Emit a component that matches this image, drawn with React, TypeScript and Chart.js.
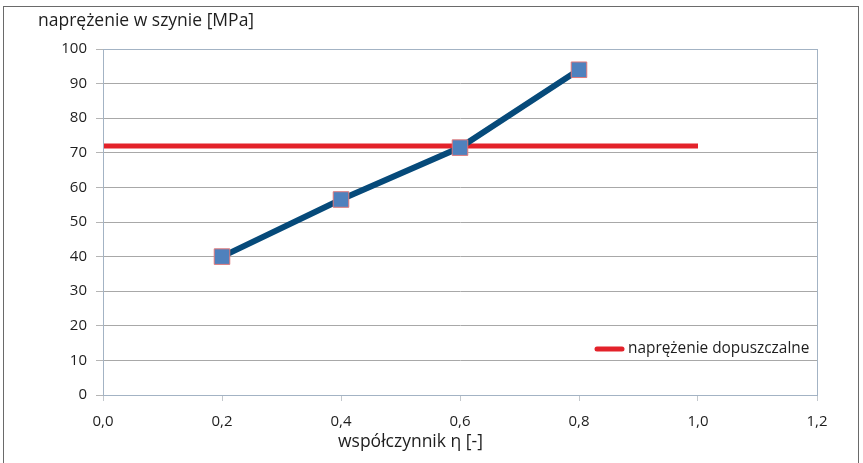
import React, { useEffect, useRef } from "react";
import { Chart, registerables } from "chart.js";

Chart.register(...registerables);

// ---- data ----
const etaValues = [0.2, 0.4, 0.6, 0.8];
const stressValues = [40, 56.5, 71.5, 94];
const allowedEta = [0.0, 1.0];
const allowedStress = [72, 72];
const seriesNames = ["naprężenie w szynie", "naprężenie dopuszczalne"];
const yAxisTitle = "naprężenie w szynie [MPa]";
const xAxisTitle = "współczynnik η [-]";
const xMin = 0, xMax = 1.2, xStep = 0.2;
const yMin = 0, yMax = 100, yStep = 10;

const FONT = "'Open Sans', 'Noto Sans', sans-serif";

const decorPlugin = {
  id: "decor",
  afterDraw(chart: any) {
    const { ctx, chartArea } = chart;
    ctx.save();
    // plot-area frame
    ctx.strokeStyle = "#a3b3c4";
    ctx.lineWidth = 1;
    ctx.strokeRect(chartArea.left + 0.5, chartArea.top + 0.5, chartArea.right - chartArea.left, chartArea.bottom - chartArea.top);
    // y title (horizontal, top-left)
    ctx.fillStyle = "#1e1e1e";
    ctx.font = `17.5px ${FONT}`;
    ctx.textBaseline = "middle";
    ctx.textAlign = "left";
    ctx.fillText(yAxisTitle, 38, 21);
    // x title
    ctx.fillText(xAxisTitle, 338, 442);
    // legend inside plot area
    const ly = chart.scales.y.getPixelForValue(13.3);
    const lx = 597;
    ctx.strokeStyle = "#e3222a";
    ctx.lineWidth = 5;
    ctx.lineCap = "round";
    ctx.beginPath();
    ctx.moveTo(lx, ly);
    ctx.lineTo(lx + 25, ly);
    ctx.stroke();
    ctx.font = `15.4px ${FONT}`;
    ctx.fillStyle = "#1e1e1e";
    ctx.fillText(seriesNames[1], lx + 31, ly);
    ctx.restore();
  },
};

export default function App() {
  const ref = useRef<HTMLCanvasElement | null>(null);
  useEffect(() => {
    if (!ref.current) return;
    const chart = new Chart(ref.current, {
      type: "line",
      data: {
        datasets: [
          {
            label: seriesNames[0],
            data: etaValues.map((x, i) => ({ x, y: stressValues[i] })),
            borderColor: "#064a7a",
            borderWidth: 6,
            backgroundColor: "#4f81bd",
            pointStyle: "rect",
            pointRadius: 11,
            pointBorderColor: "#e0787a",
            pointBorderWidth: 1,
            pointBackgroundColor: "#4f81bd",
            tension: 0,
          },
          {
            label: seriesNames[1],
            data: allowedEta.map((x, i) => ({ x, y: allowedStress[i] })),
            borderColor: "#e3222a",
            borderWidth: 5,
            pointRadius: 0,
            tension: 0,
          },
        ],
      },
      options: {
        responsive: false,
        animation: false,
        layout: { padding: { left: 0, right: 46, top: 49, bottom: 0 } },
        plugins: {
          legend: { display: false },
          tooltip: { enabled: false },
          title: { display: false },
        },
        scales: {
          x: {
            type: "linear",
            min: xMin,
            max: xMax,
            ticks: {
              stepSize: xStep,
              color: "#1e1e1e",
              font: { family: FONT, size: 15 },
              padding: 12,
              callback: (v: any) => Number(v).toFixed(1).replace(".", ","),
            },
            grid: { drawOnChartArea: false, drawTicks: true, tickLength: 6, tickColor: "#c3c8cd" },
            border: { color: "#a3b3c4" },
            afterFit: (s: any) => { s.height = 68; },
          },
          y: {
            type: "linear",
            min: yMin,
            max: yMax,
            ticks: {
              stepSize: yStep,
              color: "#1e1e1e",
              font: { family: FONT, size: 15 },
              padding: 9,
            },
            grid: { color: "#a8a8a8", tickLength: 7, tickColor: "#b5b5b5" },
            border: { color: "#a3b3c4" },
            afterFit: (s: any) => { s.width = 103; },
          },
        },
      },
      plugins: [decorPlugin],
    });
    return () => chart.destroy();
  }, []);
  return (
    <div style={{ position: "absolute", left: 0, top: 0, width: 863, height: 463, overflow: "hidden", background: "#fff" }}>
      <div style={{ position: "absolute", left: 3, top: 6, width: 854, height: 470, border: "1.5px solid #6a6a6a" }} />
      <canvas ref={ref} width={863} height={463} style={{ position: "absolute", left: 0, top: 0 }} />
    </div>
  );
}
